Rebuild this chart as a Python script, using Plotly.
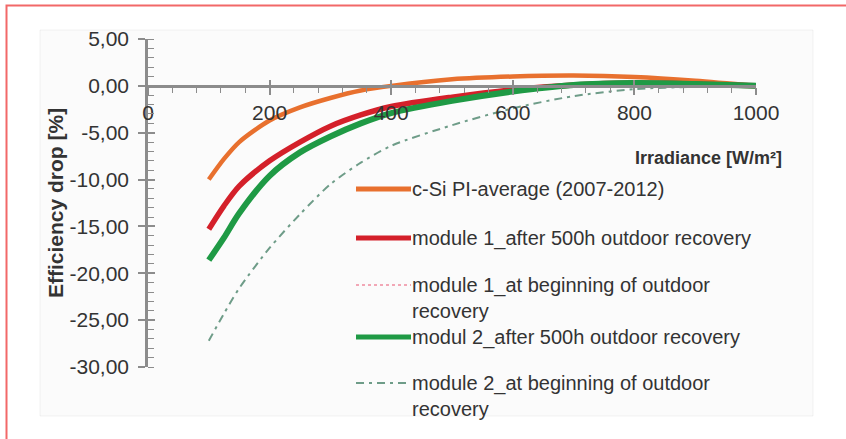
import plotly.graph_objects as go

# ---- data -------------------------------------------------------------
irradiance = [100, 125, 150, 200, 250, 300, 350, 400, 500, 600, 700, 800, 900, 1000]

csi_pi_average = [-10.0, -7.8, -6.0, -3.7, -2.3, -1.3, -0.5, 0.0, 0.7, 1.0, 1.1, 0.95, 0.55, 0.0]
module1_after = [-15.3, -12.8, -10.7, -8.0, -6.0, -4.3, -3.1, -2.2, -1.2, -0.4, 0.1, 0.3, 0.2, 0.0]
module1_begin = [-15.1, -12.7, -10.6, -7.9, -5.9, -4.2, -3.0, -2.1, -1.1, -0.4, 0.1, 0.3, 0.2, 0.0]
module2_after = [-18.6, -16.2, -13.6, -9.6, -7.1, -5.4, -4.0, -2.9, -1.6, -0.6, 0.1, 0.3, 0.2, 0.0]
module2_begin = [-27.2, -24.3, -21.6, -17.3, -13.7, -10.5, -8.2, -6.4, -4.2, -2.4, -1.1, -0.35, -0.1, 0.0]

series_names = [
    "c-Si PI-average (2007-2012)",
    "module 1_after 500h outdoor recovery",
    "module 1_at beginning of outdoor<br>recovery",
    "modul 2_after 500h outdoor recovery",
    "module 2_at beginning of outdoor<br>recovery",
]

x_tick_vals = [0, 200, 400, 600, 800, 1000]
x_tick_text = ["0", "200", "400", "600", "800", "1000"]
y_tick_vals = [5, 0, -5, -10, -15, -20, -25, -30]
y_tick_text = ["5,00", "0,00", "-5,00", "-10,00", "-15,00", "-20,00", "-25,00", "-30,00"]

x_title = "Irradiance [W/m²]"
y_title = "Efficiency drop [%]"

# ---- styling ----------------------------------------------------------
W, H = 846, 439
FONT = "Arial, 'Liberation Sans', sans-serif"
TXT = "#333333"
AXC = "#8c8c8c"

styles = [
    dict(color="#E8702E", width=4.5, dash="solid"),
    dict(color="#F08CA0", width=1.5, dash="dot"),
    dict(color="#D4202A", width=5.5, dash="solid"),
    dict(color="#1F9A45", width=6, dash="solid"),
    dict(color="#6E9C88", width=2, dash="8px,5px,3px,5px"),
]


def px_x(p):
    return p / W


def px_y(p):
    return 1 - p / H


x_dom = [px_x(148), px_x(756)]
y_dom = [px_y(367), px_y(39)]
y_rng = [-30, 5]
# the irradiance axis runs along y = 0
x_axis_pos = y_dom[0] + (0 - y_rng[0]) / (y_rng[1] - y_rng[0]) * (y_dom[1] - y_dom[0])

fig = go.Figure()

# draw order: dotted module-1 curve first so the solid lines sit on top
order = [
    (module1_begin, styles[1]),
    (module2_begin, styles[4]),
    (csi_pi_average, styles[0]),
    (module1_after, styles[2]),
    (module2_after, styles[3]),
]
for vals, st in order:
    fig.add_trace(go.Scatter(
        x=irradiance, y=vals, mode="lines",
        line=dict(color=st["color"], width=st["width"], dash=st["dash"],
                  shape="spline", smoothing=0.8),
        showlegend=False, hoverinfo="skip",
    ))

# empty trace carrying the overlay axes (inner halves of the major ticks)
fig.add_trace(go.Scatter(x=[], y=[], xaxis="x2", yaxis="y2", showlegend=False,
                         hoverinfo="skip"))

tickfont = dict(family=FONT, size=21, color=TXT)

fig.update_layout(
    template="none",
    width=W, height=H,
    margin=dict(l=0, r=0, t=0, b=0, pad=0, autoexpand=False),
    paper_bgcolor="white", plot_bgcolor="rgba(0,0,0,0)",
    xaxis=dict(
        domain=x_dom, range=[0, 1000], anchor="free", position=x_axis_pos,
        automargin=False,
        showline=True, linecolor=AXC, linewidth=2.5,
        tickvals=x_tick_vals, ticktext=x_tick_text, tickfont=tickfont,
        ticks="outside", ticklen=7, tickwidth=1.5, tickcolor=AXC,
        ticklabelstandoff=0,
        minor=dict(ticks="outside", ticklen=5, tickwidth=1.2, tickcolor=AXC, dtick=40,
                   showgrid=False),
        showgrid=False, zeroline=False,
    ),
    yaxis=dict(
        domain=y_dom, range=y_rng, anchor="x", automargin=False,
        showline=True, linecolor=AXC, linewidth=2.5,
        tickvals=y_tick_vals, ticktext=y_tick_text, tickfont=tickfont,
        ticks="outside", ticklen=7, tickwidth=1.5, tickcolor=AXC,
        ticklabelstandoff=5,
        minor=dict(ticks="inside", ticklen=6, tickwidth=1.2, tickcolor=AXC, dtick=1,
                   showgrid=False),
        showgrid=False, zeroline=False,
    ),
    xaxis2=dict(
        domain=x_dom, range=[0, 1000], overlaying="x", anchor="free", position=x_axis_pos,
        automargin=False,
        showline=False, tickvals=x_tick_vals, showticklabels=False,
        ticks="inside", ticklen=6, tickwidth=1.5, tickcolor=AXC,
        showgrid=False, zeroline=False,
    ),
    yaxis2=dict(
        domain=y_dom, range=y_rng, overlaying="y", anchor="x", side="left",
        automargin=False,
        showline=False, tickvals=y_tick_vals, showticklabels=False,
        ticks="inside", ticklen=7, tickwidth=1.5, tickcolor=AXC,
        showgrid=False, zeroline=False,
    ),
)

shapes = [
    # faint chart panel
    dict(type="rect", xref="paper", yref="paper", layer="below",
         x0=px_x(40), x1=px_x(813), y0=px_y(416), y1=px_y(30),
         fillcolor="#fbfbfb", line=dict(color="rgba(0,0,0,0.05)", width=1)),
    # red frame (left and top edges)
    dict(type="path", xref="paper", yref="paper",
         path=f"M {px_x(6.5)} {px_y(H + 5)} L {px_x(6.5)} {px_y(5.5)} L {px_x(W + 5)} {px_y(5.5)}",
         line=dict(color="#F26868", width=2)),
]

annotations = [
    dict(text=f"<b>{x_title}</b>", xref="paper", yref="paper",
         x=px_x(784), y=px_y(158), xanchor="right", yanchor="middle",
         showarrow=False, font=dict(family=FONT, size=18, color=TXT)),
    dict(text=f"<b>{y_title}</b>", xref="paper", yref="paper", textangle=-90,
         x=px_x(55), y=px_y(203), xanchor="center", yanchor="middle",
         showarrow=False, font=dict(family=FONT, size=21, color=TXT)),
]

# legend: sample line + label per series
legend_rows = [189, 238, 285, 337, 383]
legend_styles = [styles[0], styles[2], styles[1], styles[3], styles[4]]
line_gap = 26
for name, row, st in zip(series_names, legend_rows, legend_styles):
    lw = st["width"] if st["width"] < 3 else 5
    shapes.append(dict(type="line", xref="paper", yref="paper",
                       x0=px_x(356), x1=px_x(411), y0=px_y(row), y1=px_y(row),
                       line=dict(color=st["color"], width=lw, dash=st["dash"])))
    n_lines = name.count("<br>") + 1
    centre = row + (n_lines - 1) * line_gap / 2
    annotations.append(dict(text=name, xref="paper", yref="paper",
                            x=px_x(410), y=px_y(centre), xanchor="left", yanchor="middle",
                            align="left", showarrow=False,
                            font=dict(family=FONT, size=20, color=TXT)))

fig.update_layout(shapes=shapes, annotations=annotations)

fig.write_html("out.html")
